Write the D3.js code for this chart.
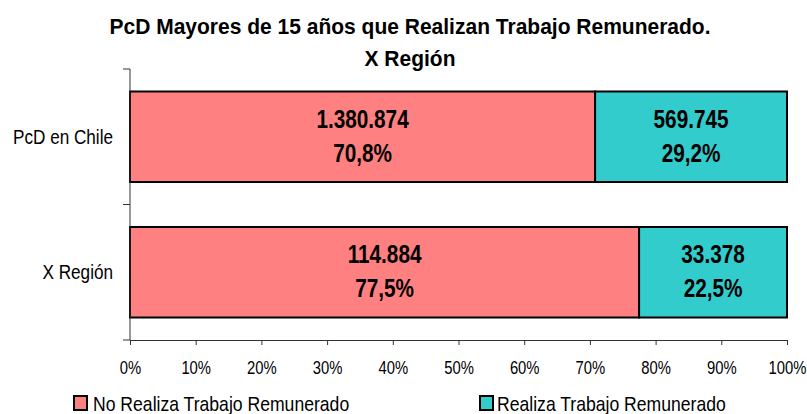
<!DOCTYPE html>
<html>
<head>
<meta charset="utf-8">
<script src="https://cdn.jsdelivr.net/npm/d3@7"></script>
<style>
  html, body { margin: 0; padding: 0; background: #fff; }
  svg { display: block; }
  text { font-family: "Liberation Sans", Arial, sans-serif; fill: #000; }
</style>
</head>
<body>
<svg id="chart" width="807" height="414"></svg>
<script>
const categories = ["PcD en Chile", "X Región"];
const noRealiza = [1380874, 114884];
const realiza = [569745, 33378];
const seriesNames = ["No Realiza Trabajo Remunerado", "Realiza Trabajo Remunerado"];
const seriesColors = ["#FF8080", "#33CCCC"];
const xTicks = [0, 0.1, 0.2, 0.3, 0.4, 0.5, 0.6, 0.7, 0.8, 0.9, 1.0];
const titleLines = ["PcD Mayores de 15 años que Realizan Trabajo Remunerado.", "X Región"];

const locale = d3.formatLocale({decimal: ",", thousands: ".", grouping: [3], currency: ["$", ""]});
const fmtNum = locale.format(",d");
const fmtPct = locale.format(".1%");
const fmtTick = locale.format(".0%");

const svg = d3.select("#chart");
const m = {left: 130, right: 20, top: 69, bottom: 74};
const W = 807, H = 414;

const x = d3.scaleLinear().domain([0, 1]).range([m.left, W - m.right]);
const y = d3.scaleBand().domain(categories).range([m.top, H - m.bottom]).paddingInner(0.332).paddingOuter(0.166);
const yb = d3.scaleBand().domain(categories).range([m.top, H - m.bottom]).padding(0);

// condensed text helper
function addText(parent, tx, ty, str, o) {
  return parent.append("text")
    .attr("transform", `translate(${tx},${ty}) scale(${o.sx || 1},1)`)
    .attr("text-anchor", o.anchor || "start")
    .attr("font-size", o.size)
    .attr("font-weight", o.weight || "normal")
    .text(str);
}

// Title
addText(svg, 410, 34, titleLines[0], {size: 22, weight: "bold", sx: 0.955, anchor: "middle"});
addText(svg, 410, 66, titleLines[1], {size: 22, weight: "bold", sx: 0.955, anchor: "middle"});

// Data rows
const rows = categories.map((c, i) => {
  const tot = noRealiza[i] + realiza[i];
  return {cat: c, segs: [
    {v: noRealiza[i], p0: 0, p1: noRealiza[i] / tot, color: seriesColors[0]},
    {v: realiza[i], p0: noRealiza[i] / tot, p1: 1, color: seriesColors[1]}
  ]};
});

const g = svg.append("g");
rows.forEach(r => {
  r.segs.forEach(s => {
    g.append("rect")
      .attr("x", x(s.p0)).attr("y", y(r.cat))
      .attr("width", x(s.p1) - x(s.p0)).attr("height", y.bandwidth())
      .attr("fill", s.color).attr("stroke", "#000").attr("stroke-width", 2);
  });
});
rows.forEach(r => {
  r.segs.forEach(s => {
    const cx = (x(s.p0) + x(s.p1)) / 2, cy = y(r.cat) + y.bandwidth() / 2;
    addText(g, cx, cy - 9, fmtNum(s.v), {size: 25, weight: "bold", sx: 0.83, anchor: "middle"});
    addText(g, cx, cy + 25, fmtPct(s.p1 - s.p0), {size: 25, weight: "bold", sx: 0.83, anchor: "middle"});
  });
});

// Y axis
const yAxisG = svg.append("g");
yAxisG.append("line").attr("x1", m.left).attr("x2", m.left).attr("y1", m.top).attr("y2", H - m.bottom)
  .attr("stroke", "#333").attr("stroke-width", 1);
const bounds = categories.map(c => yb(c)).concat([yb(categories[categories.length - 1]) + yb.bandwidth()]);
bounds.forEach(b => {
  yAxisG.append("line").attr("x1", m.left - 7).attr("x2", m.left).attr("y1", b).attr("y2", b)
    .attr("stroke", "#333").attr("stroke-width", 1);
});
categories.forEach(c => {
  addText(yAxisG, 113, y(c) + y.bandwidth() / 2 + 7, c, {size: 21, sx: 0.816, anchor: "end"});
});

// X axis
const xAxis = d3.axisBottom(x).tickValues(xTicks).tickFormat(fmtTick).tickSizeInner(5).tickSizeOuter(0).tickPadding(16);
const xg = svg.append("g").attr("transform", `translate(0,${H - m.bottom})`).call(xAxis);
xg.select(".domain").attr("stroke", "#333");
xg.selectAll(".tick line").attr("stroke", "#333");
xg.selectAll(".tick text")
  .attr("font-size", 18.5)
  .attr("font-family", "Liberation Sans, Arial, sans-serif")
  .attr("fill", "#000")
  .attr("transform", "scale(0.8,1)");

// Legend
const legX = [74, 480];
const legTextX = [93, 497];
seriesNames.forEach((n, i) => {
  svg.append("rect").attr("x", legX[i]).attr("y", 396).attr("width", 13).attr("height", 14)
    .attr("fill", seriesColors[i]).attr("stroke", "#000").attr("stroke-width", 2);
  addText(svg, legTextX[i], 411, n, {size: 20, sx: 0.88});
});
</script>
</body>
</html>
